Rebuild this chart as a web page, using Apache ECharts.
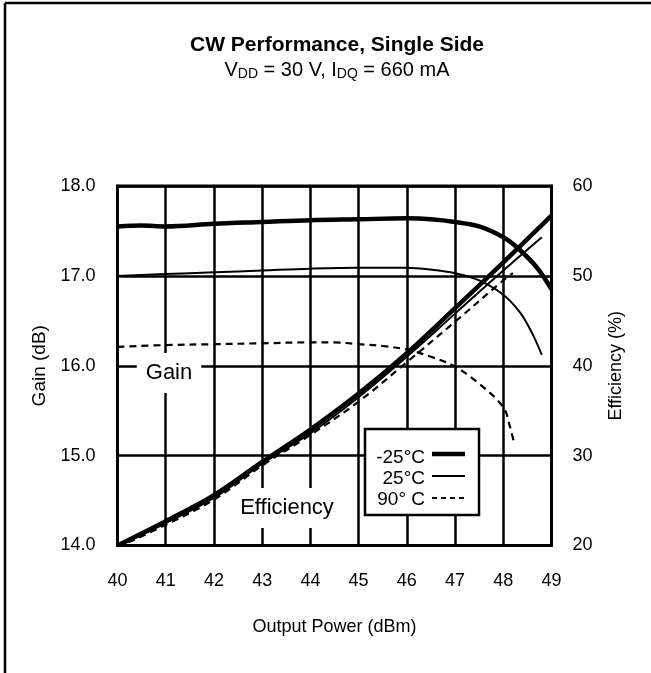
<!DOCTYPE html>
<html>
<head>
<meta charset="utf-8">
<script src="https://cdn.jsdelivr.net/npm/echarts@6/dist/echarts.min.js"></script>
<style>
  html, body { margin: 0; padding: 0; background: #fff; }
  #myChart { width: 651px; height: 673px; }
</style>
</head>
<body>
<div id="myChart"></div>
<script>
// output power (dBm) for each curve
var xGainCold = [40, 40.5, 41, 42, 43, 44, 45, 46, 46.5, 47, 47.5, 48, 48.3, 48.7, 49];
var xGainRoom = [40, 41, 42, 43, 44, 45, 46, 46.5, 47, 47.5, 48, 48.35, 48.6, 48.8];
var xGainHot  = [40, 41, 42, 43, 44, 44.5, 45, 45.5, 46, 46.5, 47, 47.5, 48, 48.14, 48.22];
var xEffCold  = [40, 41, 42, 43, 44, 45, 46, 47, 48, 49];
var xEffRoom  = [40, 41, 42, 43, 44, 45, 46, 47, 48, 48.8];
var xEffHot   = [40, 41, 42, 43, 44, 45, 46, 47, 48, 48.2];

// gain (dB)
var gainCold = [17.55, 17.56, 17.55, 17.58, 17.60, 17.62, 17.63, 17.64, 17.63, 17.60, 17.55, 17.43, 17.31, 17.09, 16.85];
var gainRoom = [17.00, 17.02, 17.04, 17.06, 17.08, 17.09, 17.09, 17.07, 17.03, 16.95, 16.79, 16.59, 16.36, 16.12];
var gainHot  = [16.21, 16.23, 16.24, 16.25, 16.26, 16.26, 16.24, 16.22, 16.18, 16.10, 15.99, 15.80, 15.54, 15.32, 15.15];

// efficiency (%)
var effCold = [20.0, 22.7, 25.6, 29.3, 32.9, 36.9, 41.4, 46.4, 51.5, 56.7];
var effRoom = [19.9, 22.5, 25.3, 29.1, 32.5, 36.5, 41.0, 45.8, 50.6, 54.3];
var effHot  = [19.8, 22.3, 25.1, 28.9, 32.3, 36.0, 40.4, 44.9, 49.5, 50.3];

var legendNames = ['-25°C', '25°C', '90°C'];

var FONT = '"Liberation Sans", Arial, sans-serif';

function pairs(xs, ys) {
    var out = [];
    for (var i = 0; i < ys.length; i++) {
        out.push([xs[i], ys[i]]);
    }
    return out;
}

var styles = [
    { width: 4.5, type: 'solid' },   // -25
    { width: 2, type: 'solid' },     // 25
    { width: 2.2, type: [7, 5] }     // 90
];

function makeLine(name, data, axis, st) {
    return {
        name: name,
        type: 'line',
        yAxisIndex: axis,
        smooth: 0.35,
        symbol: 'none',
        data: data,
        lineStyle: { color: '#000', width: st.width, type: st.type },
        z: 5
    };
}

var myChart = echarts.init(document.getElementById('myChart'));

var option = {
    backgroundColor: '#fff',
    animation: false,
    title: {
        text: 'CW Performance, Single Side',
        subtext: 'V{s|DD} = 30 V, I{s|DQ} = 660 mA',
        left: 332,
        top: 30,
        textAlign: 'center',
        itemGap: 3,
        textStyle: { fontFamily: FONT, fontWeight: 'bold', fontSize: 21, color: '#000' },
        subtextStyle: {
            fontFamily: FONT, fontSize: 20, color: '#000',
            rich: { s: { fontFamily: FONT, fontSize: 14, color: '#000', verticalAlign: 'bottom', padding: [8, 0, 0, 0] } }
        }
    },
    grid: {
        left: 117.5,
        right: 99.5,
        top: 186,
        bottom: 127.5,
        show: true,
        borderColor: '#000',
        borderWidth: 3
    },
    xAxis: {
        type: 'value',
        min: 40,
        max: 49,
        interval: 1,
        name: 'Output Power (dBm)',
        nameLocation: 'middle',
        nameGap: 73,
        nameTextStyle: { fontFamily: FONT, fontSize: 18, color: '#000' },
        axisLine: { lineStyle: { color: '#000', width: 3 } },
        axisTick: { show: false },
        axisLabel: { fontFamily: FONT, fontSize: 18, color: '#000', margin: 27 },
        splitLine: { lineStyle: { color: '#000', width: 2.5 } }
    },
    yAxis: [
        {
            type: 'value',
            min: 14,
            max: 18,
            interval: 1,
            name: 'Gain (dB)',
            nameLocation: 'middle',
            nameGap: 59,
            nameTextStyle: { fontFamily: FONT, fontSize: 19, color: '#000' },
            axisLine: { show: true, lineStyle: { color: '#000', width: 3 } },
            axisTick: { show: false },
            axisLabel: {
                fontFamily: FONT, fontSize: 18, color: '#000', margin: 22,
                formatter: function (v) { return v.toFixed(1); }
            },
            splitLine: { lineStyle: { color: '#000', width: 2.5 } }
        },
        {
            type: 'value',
            min: 20,
            max: 60,
            interval: 10,
            position: 'right',
            name: 'Efficiency (%)',
            nameLocation: 'middle',
            nameGap: 56,
            nameTextStyle: { fontFamily: FONT, fontSize: 18, color: '#000' },
            axisLine: { show: true, lineStyle: { color: '#000', width: 3 } },
            axisTick: { show: false },
            axisLabel: { fontFamily: FONT, fontSize: 18, color: '#000', margin: 21 },
            splitLine: { show: false }
        }
    ],
    series: [
        makeLine(legendNames[0], pairs(xGainCold, gainCold), 0, styles[0]),
        makeLine(legendNames[1], pairs(xGainRoom, gainRoom), 0, styles[1]),
        makeLine(legendNames[2], pairs(xGainHot, gainHot), 0, styles[2]),
        makeLine(legendNames[0], pairs(xEffCold, effCold), 1, styles[0]),
        makeLine(legendNames[1], pairs(xEffRoom, effRoom), 1, styles[1]),
        makeLine(legendNames[2], pairs(xEffHot, effHot), 1, styles[2])
    ],
    graphic: [
        // page frame (left and top edges)
        { type: 'line', shape: { x1: 5, y1: 3, x2: 651, y2: 3 }, style: { stroke: '#000', lineWidth: 2.5 }, z: 1 },
        { type: 'line', shape: { x1: 5, y1: 3, x2: 5, y2: 673 }, style: { stroke: '#000', lineWidth: 2.5 }, z: 1 },
        // curve labels
        {
            type: 'text', x: 169, y: 373, z: 50,
            style: {
                text: 'Gain', font: '22px ' + FONT, fill: '#000',
                align: 'center', verticalAlign: 'middle',
                backgroundColor: '#fff', padding: [9, 9, 9, 9]
            }
        },
        {
            type: 'text', x: 287, y: 508, z: 50,
            style: {
                text: 'Efficiency', font: '22px ' + FONT, fill: '#000',
                align: 'center', verticalAlign: 'middle',
                backgroundColor: '#fff', padding: [9, 6, 9, 6]
            }
        },
        // legend box
        { type: 'rect', z: 50, shape: { x: 365, y: 429, width: 114, height: 86 }, style: { fill: '#fff', stroke: '#000', lineWidth: 2.5 } },
        { type: 'text', z: 51, x: 425, y: 458, style: { text: legendNames[0], font: '19px ' + FONT, fill: '#000', align: 'right', verticalAlign: 'middle' } },
        { type: 'text', z: 51, x: 425, y: 479, style: { text: legendNames[1], font: '19px ' + FONT, fill: '#000', align: 'right', verticalAlign: 'middle' } },
        { type: 'text', z: 51, x: 425, y: 500, style: { text: legendNames[2].replace('°', '° '), font: '19px ' + FONT, fill: '#000', align: 'right', verticalAlign: 'middle' } },
        { type: 'line', z: 51, shape: { x1: 432, y1: 454, x2: 465, y2: 454 }, style: { stroke: '#000', lineWidth: 4.5 } },
        { type: 'line', z: 51, shape: { x1: 432, y1: 476, x2: 465, y2: 476 }, style: { stroke: '#000', lineWidth: 2 } },
        { type: 'line', z: 51, shape: { x1: 432, y1: 498, x2: 465, y2: 498 }, style: { stroke: '#000', lineWidth: 2, lineDash: [5, 4] } }
    ]
};

myChart.setOption(option);
</script>
</body>
</html>
